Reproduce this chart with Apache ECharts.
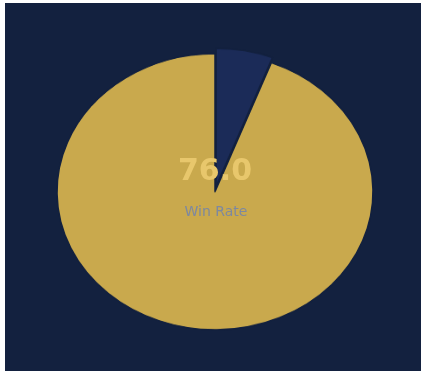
<!DOCTYPE html>
<html>
<head>
<meta charset="utf-8">
<script src="https://cdn.jsdelivr.net/npm/echarts@6/dist/echarts.min.js"></script>
<style>
  html, body { margin: 0; padding: 0; background: #ffffff; width: 422px; height: 371px; overflow: hidden; }
  #bg { position: absolute; left: 5px; top: 3px; width: 416px; height: 368px; background: #13213f; }
  #pie { position: absolute; left: 5px; top: 3px; width: 416px; height: 421px; transform-origin: 0 0; transform: scaleY(0.8734); }
  #txt { position: absolute; left: 5px; top: 3px; width: 416px; height: 368px; }
</style>
</head>
<body>
<div id="bg"></div>
<div id="pie"></div>
<div id="txt"></div>
<script>
const categories = ['Other', 'Win'];
const values = [5.8, 94.2];
const sliceColors = ['#1b2b58', '#c9a94d'];
const centerValue = '76.0';
const centerLabel = 'Win Rate';

const pie = echarts.init(document.getElementById('pie'), null, { renderer: 'canvas' });
pie.setOption({
  animation: false,
  backgroundColor: 'transparent',
  series: [{
    type: 'pie',
    center: [210, 216],
    radius: [0, 158],
    startAngle: 90,
    clockwise: true,
    selectedMode: 'single',
    selectedOffset: 6,
    label: { show: false },
    labelLine: { show: false },
    emphasis: { disabled: true },
    itemStyle: { borderColor: '#13213f', borderWidth: 1.5 },
    data: categories.map((c, i) => ({
      name: c,
      value: values[i],
      selected: i === 0,
      itemStyle: { color: sliceColors[i] }
    }))
  }]
});

const txt = echarts.init(document.getElementById('txt'), null, { renderer: 'canvas' });
txt.setOption({
  animation: false,
  backgroundColor: 'transparent',
  graphic: [
    { type: 'text', x: 210, y: 169, style: { text: centerValue, fill: '#e8c76c', font: 'bold 30px "DejaVu Sans", sans-serif', align: 'center', verticalAlign: 'middle' } },
    { type: 'text', x: 211, y: 209, style: { text: centerLabel, fill: '#7d88a0', font: '14px "DejaVu Sans", sans-serif', align: 'center', verticalAlign: 'middle' } }
  ]
});
</script>
</body>
</html>
